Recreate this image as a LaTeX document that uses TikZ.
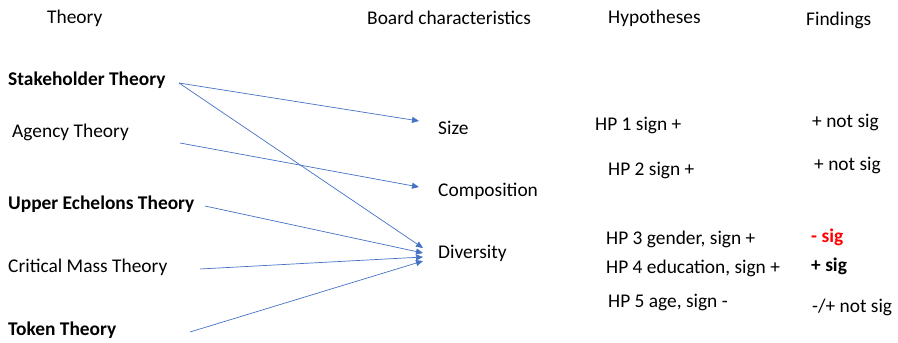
\documentclass[tikz,border=0pt]{standalone}
\usepackage{fontspec}
\setmainfont{Carlito}
\usetikzlibrary{arrows.meta}
\definecolor{arrowblue}{HTML}{4472C4}
\definecolor{sigred}{HTML}{FF0000}
\begin{document}
\begin{tikzpicture}[x=1pt,y=-1pt,
  txt/.style={anchor=west,inner sep=0pt,font=\fontsize{19.4}{23}\selectfont},
  btxt/.style={txt,font=\fontsize{19.4}{23}\selectfont\bfseries},
  link/.style={draw=arrowblue,line width=0.7pt,-{Triangle[length=7pt,width=6pt]}}]
\useasboundingbox (0,0) rectangle (898,343);
% headers
\node[txt] (hTheory) at (47,18) {Theory};
\node[txt] (hBoard) at (367,18) {Board characteristics};
\node[txt] (hHyp) at (608,18) {Hypotheses};
\node[txt] (hFind) at (806,20) {Findings};
% theories
\node[btxt] (stake) at (8,80) {Stakeholder Theory};
\node[txt] (agency) at (12,132) {Agency Theory};
\node[btxt] (upper) at (8,204) {Upper Echelons Theory};
\node[txt] (critical) at (8,267) {Critical Mass Theory};
\node[btxt] (token) at (8,330) {Token Theory};
% board characteristics
\node[txt] (size) at (438,128) {Size};
\node[txt] (comp) at (438,191) {Composition};
\node[txt] (div) at (438,253) {Diversity};
% hypotheses
\node[txt] (hp1) at (595,125) {HP 1 sign +};
\node[txt] (hp2) at (608,170) {HP 2 sign +};
\node[txt] (hp3) at (606,239) {HP 3 gender, sign +};
\node[txt] (hp4) at (606,268) {HP 4 education, sign +};
\node[txt] (hp5) at (608,302) {HP 5 age, sign -};
% findings
\node[txt] (f1) at (812,122) {+ not sig};
\node[txt] (f2) at (814,165) {+ not sig};
\node[btxt,text=sigred] (f3) at (811,237) {- sig};
\node[btxt] (f4) at (811,266) {+ sig};
\node[txt] (f5) at (812,307) {-/+ not sig};
% connector end points
\coordinate (sA) at (179,83);
\coordinate (aA) at (180,143);
\coordinate (uA) at (205,206);
\coordinate (cA) at (200,269);
\coordinate (tA) at (190,332);
\coordinate (sizeIn) at (419,121);
\coordinate (compIn) at (419,187);
\coordinate (divIn1) at (423,248);
\coordinate (divIn2) at (423,253);
\coordinate (divIn3) at (423,257);
\coordinate (divIn4) at (423,261);
\draw[link] (sA) -- (sizeIn);
\draw[link] (sA) -- (divIn1);
\draw[link] (aA) -- (compIn);
\draw[link] (uA) -- (divIn2);
\draw[link] (cA) -- (divIn3);
\draw[link] (tA) -- (divIn4);
\end{tikzpicture}
\end{document}
